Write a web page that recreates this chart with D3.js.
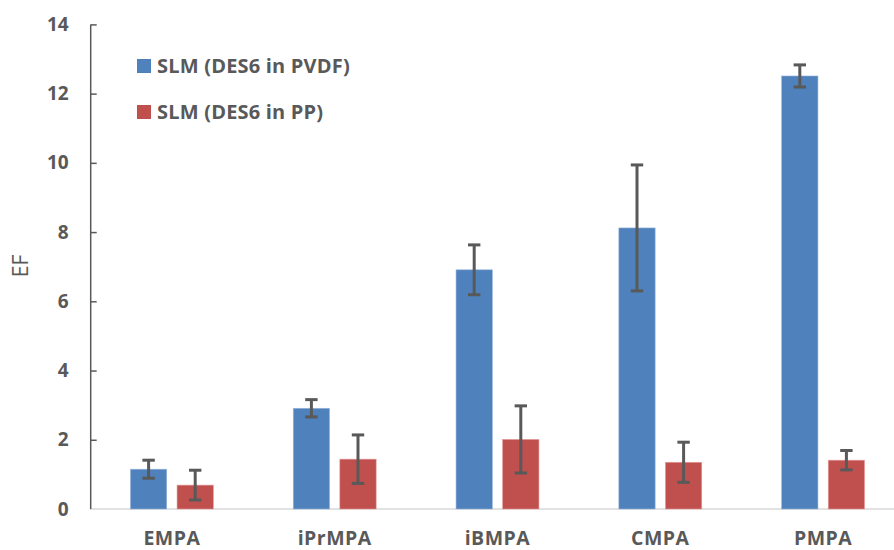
<!DOCTYPE html>
<html><head><meta charset="utf-8">
<script src="https://cdn.jsdelivr.net/npm/d3@7"></script>
<style>body{margin:0;background:#fff}svg{display:block}</style>
</head><body>
<svg id="c" width="894" height="550"></svg>
<script>
const categories = ["EMPA","iPrMPA","iBMPA","CMPA","PMPA"];
const seriesNames = ["SLM (DES6 in PVDF)","SLM (DES6 in PP)"];
const pvdfValues = [1.15, 2.91, 6.91, 8.12, 12.51];
const pvdfErrors = [0.26, 0.25, 0.72, 1.82, 0.32];
const ppValues = [0.69, 1.44, 2.01, 1.35, 1.41];
const ppErrors = [0.43, 0.70, 0.97, 0.58, 0.28];
const yTicks = [0,2,4,6,8,10,12,14];
const colors = ["#4F81BD","#C0504D"];

const svg = d3.select("#c");
const x = d3.scaleBand().domain(categories).range([90.5, 904.5]).paddingInner(0).paddingOuter(0);
const y = d3.scaleLinear().domain([0,14]).range([509, 24.4]);
const barW = 36.3, gap = 10.3;
const textCol = "#595959";
const font = "'Open Sans', sans-serif";

// baseline
svg.append("line").attr("x1",90).attr("x2",894).attr("y1",y(0)).attr("y2",y(0))
  .attr("stroke","#d9d9d9").attr("stroke-width",1.5);

// y axis
const yAxis = d3.axisLeft(y).tickValues(yTicks).tickSize(-6).tickPadding(0).tickFormat(d3.format("d"));
const ga = svg.append("g").attr("transform","translate(90.7,0)").call(yAxis);
ga.select(".domain").attr("stroke","#595959").attr("stroke-width",1.5).attr("d",`M0,${y(14)}V${y(0)}`);
ga.selectAll(".tick line").attr("stroke","#595959").attr("stroke-width",1.5);
ga.selectAll(".tick text").attr("x",-22).attr("fill",textCol)
  .style("font-family",font).style("font-weight","bold").style("font-size","19px");
ga.selectAll(".tick").filter(d=>d===0).select("line").remove();

const series = [
  {vals: pvdfValues, errs: pvdfErrors, off: -gap/2 - barW},
  {vals: ppValues, errs: ppErrors, off: gap/2}
];
series.forEach((s,si)=>{
  const g = svg.append("g");
  categories.forEach((c,i)=>{
    const cx = x(c) + x.bandwidth()/2 + s.off;
    g.append("rect").attr("x",cx).attr("y",y(s.vals[i])).attr("width",barW)
      .attr("height",y(0)-y(s.vals[i])).attr("fill",colors[si])
      .attr("stroke", si===0 ? "#9ab6dc" : "#e59c9a").attr("stroke-width",0.6);
  });
});
series.forEach((s,si)=>{
  const g = svg.append("g").attr("stroke","#595959").attr("stroke-width",3);
  categories.forEach((c,i)=>{
    const mx = x(c) + x.bandwidth()/2 + s.off + barW/2;
    const t = y(s.vals[i]+s.errs[i]), b = y(s.vals[i]-s.errs[i]);
    g.append("line").attr("x1",mx).attr("x2",mx).attr("y1",t).attr("y2",b);
    g.append("line").attr("x1",mx-6.2).attr("x2",mx+6.2).attr("y1",t).attr("y2",t);
    g.append("line").attr("x1",mx-6.2).attr("x2",mx+6.2).attr("y1",b).attr("y2",b);
  });
});

// x labels
categories.forEach(c=>{
  svg.append("text").attr("x",x(c)+x.bandwidth()/2).attr("y",545).attr("text-anchor","middle")
    .attr("fill",textCol).style("font-family",font).style("font-weight","bold").style("font-size","19.5px")
    .style("letter-spacing","0.5px").text(c);
});

// y label
svg.append("text").attr("transform","translate(28,266) rotate(-90)").attr("text-anchor","middle")
  .attr("fill",textCol).style("font-family",font).style("font-size","21px").text("EF");

// legend
seriesNames.forEach((n,i)=>{
  const yy = 59 + i*46;
  svg.append("rect").attr("x",137).attr("y",yy).attr("width",14).attr("height",14).attr("fill",colors[i]);
  svg.append("text").attr("x",157).attr("y",yy+14.3).attr("fill",textCol)
    .style("font-family",font).style("font-weight","bold").style("font-size","20px")
    .style("letter-spacing","0.2px").text(n);
});
</script>
</body></html>
